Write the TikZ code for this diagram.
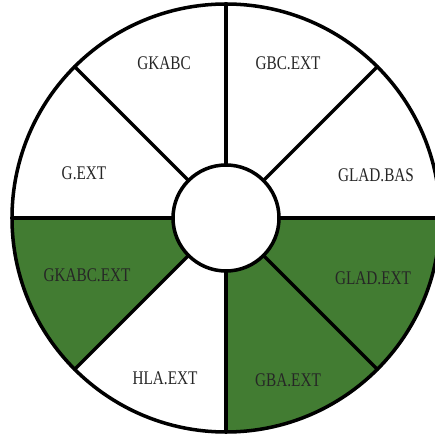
\documentclass[tikz,border=0pt]{standalone}
\usepackage{fontspec}
\setmainfont{Liberation Serif}
\usepackage{tikz}
\usetikzlibrary{positioning, calc}
\usepackage{xcolor}
\definecolor{leafgreen}{RGB}{66,124,50}
\tikzstyle{ring}    = [line width=2pt, draw=black]
\tikzstyle{filelbl} = [font=\fontsize{11}{12}\selectfont, text=black!85, xscale=0.79, inner sep=0pt]
\tikzstyle{spoke}   = [line width=2pt, line cap=round]

\begin{document}
\begin{tikzpicture}
  \useasboundingbox (-4.52,-4.34) rectangle (4.16,4.36);
  \fill[white] (-4.52,-4.34) rectangle (4.16,4.36);

  % --- Green sectors ---
  \fill[leafgreen] (0,0) -- (180:4.28) arc (180:225:4.28) -- cycle;
  \fill[leafgreen] (0,0) -- (270:4.28) arc (270:360:4.28) -- cycle;

  % --- Outer ring and spokes ---
  \draw[ring] (0,0) circle (4.28);
  \foreach \a in {0,45,...,315}
    \draw[spoke] (\a:1.06) -- (\a:4.28);
  \node (hub) [circle, ring, fill=white, minimum size=2.12cm, inner sep=0pt] at (0,0) {};

  % --- File labels ---
  \node (gkabc)    [filelbl] at (-1.24, 3.10)  {GKABC};
  \node (gbcext)   [filelbl] at (1.24, 3.10)   {GBC.EXT};
  \node (gext)     [filelbl] at (-2.84, 0.90)  {G.EXT};
  \node (gladbas)  [filelbl] at (3.00, 0.86)   {GLAD.BAS};
  \node (gkabcext) [filelbl] at (-2.78, -1.15) {GKABC.EXT};
  \node (gladext)  [filelbl] at (2.94, -1.20)  {GLAD.EXT};
  \node (hlaext)   [filelbl] at (-1.22, -3.20) {HLA.EXT};
  \node (gbaext)   [filelbl] at (1.24, -3.24)  {GBA.EXT};

\end{tikzpicture}
\end{document}
